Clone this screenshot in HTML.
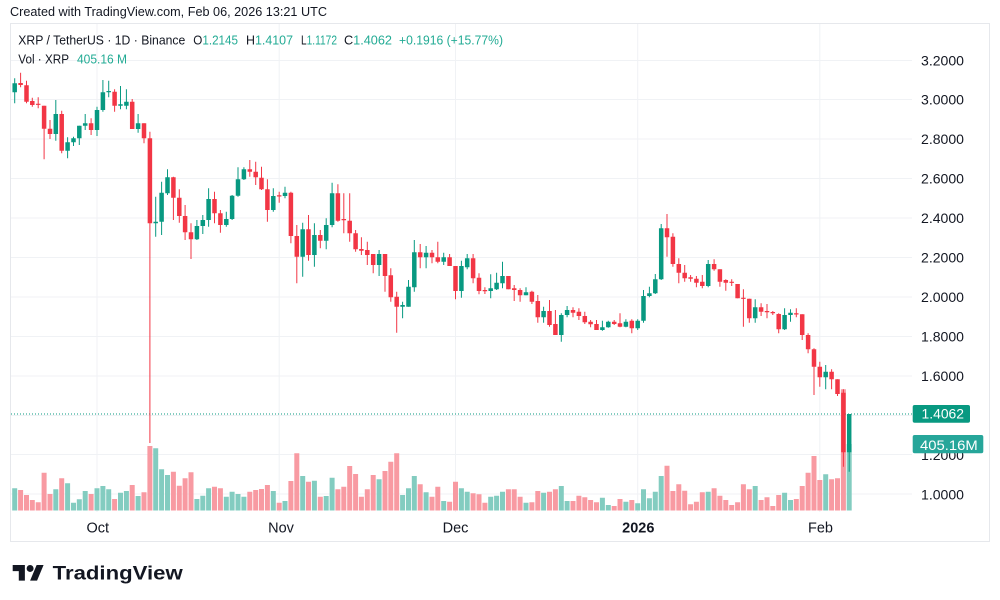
<!DOCTYPE html>
<html>
<head>
<meta charset="utf-8">
<style>
html,body{margin:0;padding:0;background:#fff;}
body{width:1000px;height:600px;overflow:hidden;}
svg{display:block;font-family:"Liberation Sans",Arial,sans-serif;}
</style>
</head>
<body>
<svg width="1000" height="600" viewBox="0 0 1000 600" xmlns="http://www.w3.org/2000/svg">
<rect width="1000" height="600" fill="#fff"/>
<!-- frame -->
<path d="M10.5 23.5H989.5V541.5H10.5Z" fill="none" stroke="#e6e8ec" stroke-width="1"/>
<!-- horizontal grid -->
<g stroke="#f0f2f5" stroke-width="1">
<path d="M11 60.5H912M11 99.5H912M11 139H912M11 178.5H912M11 218H912M11 257.5H912M11 297H912M11 336.5H912M11 376H912M11 415.5H912M11 454.5H912M11 494H912"/>
<path d="M97 24V512M279.2 24V512M455.5 24V512M637.7 24V512M819.8 24V512"/>
</g>
<!-- volume -->
<g fill="none" stroke-width="5">
<path stroke="#83ccc0" d="M14.7 510.5V488.3M55.8 510.5V489.3M67.6 510.5V483.3M73.5 510.5V502.7M79.3 510.5V499.3M85.2 510.5V491M97 510.5V488.3M102.9 510.5V486M108.7 510.5V489.3M120.5 510.5V492.7M126.4 510.5V491M138.1 510.5V496M155.7 510.5V448.3M161.6 510.5V469.3M167.5 510.5V475M196.9 510.5V499M202.8 510.5V495.7M208.6 510.5V488.3M226.3 510.5V496.7M232.1 510.5V491.7M238 510.5V494M243.9 510.5V496.7M273.3 510.5V491M285 510.5V501M302.7 510.5V476M314.4 510.5V480.7M326.2 510.5V496M332.1 510.5V477.7M379.1 510.5V479.3M402.6 510.5V495M408.5 510.5V488.3M414.3 510.5V476M426.1 510.5V492.3M443.7 510.5V501M461.4 510.5V488.3M467.2 510.5V491.7M490.7 510.5V496.7M496.6 510.5V495.7M502.5 510.5V491.7M526 510.5V502.7M543.6 510.5V492.7M561.3 510.5V486M567.1 510.5V501M602.4 510.5V497.7M608.3 510.5V505M625.9 510.5V501.7M637.7 510.5V503.3M643.5 510.5V489.3M649.4 510.5V498.3M655.3 510.5V491.7M661.2 510.5V476M708.2 510.5V491.7M755.2 510.5V486M784.6 510.5V492.7M790.5 510.5V500M825.7 510.5V474.3M849.2 510.5V444"/>
<path stroke="#f89aa2" d="M20.6 510.5V490M26.5 510.5V495M32.3 510.5V500M38.2 510.5V502.3M44.1 510.5V472.7M50 510.5V494M61.7 510.5V478.3M91.1 510.5V494M114.6 510.5V499M132.2 510.5V485M144 510.5V492.3M149.9 510.5V446M173.4 510.5V471.7M179.3 510.5V485.7M185.1 510.5V478.3M191 510.5V472.3M214.5 510.5V486.7M220.4 510.5V488.3M249.8 510.5V491.7M255.7 510.5V490M261.5 510.5V489M267.4 510.5V485M279.2 510.5V502.7M290.9 510.5V481M296.8 510.5V453.3M308.5 510.5V481.7M320.3 510.5V496.7M337.9 510.5V489.3M343.8 510.5V486.7M349.7 510.5V466M355.6 510.5V474M361.4 510.5V496.7M367.3 510.5V489.3M373.2 510.5V475M385 510.5V471M390.8 510.5V461.7M396.7 510.5V453.3M420.2 510.5V484.3M432 510.5V496.7M437.8 510.5V486.7M449.6 510.5V501.7M455.5 510.5V481.7M473.1 510.5V493.3M479 510.5V494.3M484.9 510.5V502.7M508.4 510.5V489.3M514.2 510.5V489.3M520.1 510.5V496.7M531.9 510.5V502.3M537.8 510.5V491M549.5 510.5V491.7M555.4 510.5V489.3M573 510.5V501M578.9 510.5V495.7M584.8 510.5V497.3M590.6 510.5V500M596.5 510.5V502.3M614.2 510.5V506M620 510.5V499M631.8 510.5V500M667 510.5V465.7M672.9 510.5V491M678.8 510.5V484.3M684.7 510.5V490.7M690.6 510.5V504.3M696.4 510.5V501.7M702.3 510.5V492.3M714.1 510.5V488.3M719.9 510.5V495.7M725.8 510.5V500M731.7 510.5V505M737.6 510.5V502.3M743.4 510.5V484.3M749.3 510.5V489.3M761.1 510.5V500M767 510.5V497.3M772.8 510.5V506M778.7 510.5V495M796.3 510.5V499M802.2 510.5V486M808.1 510.5V472.7M814 510.5V456M819.8 510.5V480M831.6 510.5V479.3M837.5 510.5V478.3M843.4 510.5V389.3"/>
</g>
<!-- last price dotted line -->
<path d="M11 414H912" stroke="#089981" stroke-width="1" stroke-dasharray="1 2"/>
<!-- candles -->
<g fill="none" stroke="#089981">
<path stroke-width="1" d="M14.7 78.3V103.3M55.8 100V140.7M67.6 137.3V158.3M73.5 136.7V146M79.3 125.7V145M85.2 114V130M97 106.7V136M102.9 80V111.7M108.7 80.7V97.3M120.5 86V109.3M126.4 89.3V109.3M138.1 114V132.7M155.7 196.7V236.7M161.6 181.7V235M167.5 169.3V195M196.9 220V240M202.8 215V234M208.6 188.3V226.7M226.3 211.7V226.7M232.1 195V220M238 167.3V196.7M243.9 167.3V180M273.3 188.3V211.7M285 186.7V198.3M302.7 222.7V276.7M314.4 223.3V266.7M326.2 218.3V249.3M332.1 182.7V227.3M379.1 250V276M402.6 301.7V318.3M408.5 280V306.7M414.3 240V291.7M426.1 246V268.3M443.7 252.7V265M461.4 260.7V297.7M467.2 254V269.3M490.7 274.3V298.3M496.6 272.7V290M502.5 261.7V288.3M526 287.3V295.3M543.6 306.7V322.7M561.3 313.3V341.7M567.1 306V317.3M602.4 320.7V330.7M608.3 320.7V327.7M625.9 319.3V327.3M637.7 319.3V330M643.5 290V322.7M649.4 286.7V297.3M655.3 274V294M661.2 224V280M708.2 260V287.3M755.2 299.3V322.7M784.6 308.3V330M790.5 309.3V321.7M825.7 365V389.3M849.2 414V471.7"/>
<path stroke-width="4.5" d="M14.7 83.3V92.3M55.8 114V134M67.6 142.3V150.7M73.5 138.3V142.3M79.3 125.7V138.3M85.2 123.3V125.7M97 110V130M102.9 92.3V110M108.7 91V92.3M120.5 104.3V105.7M126.4 101.7V105.7M138.1 123.3V129M155.7 221.7V223.3M161.6 192.7V221.7M167.5 177.3V193.3M196.9 226V239.3M202.8 220V226M208.6 199V220M226.3 219V225M232.1 195.7V219M238 179.3V195.7M243.9 169.3V179.3M273.3 196V210M285 192.7V196M302.7 229.3V256.7M314.4 235V255M326.2 225V240.7M332.1 193.3V225M379.1 254V265M402.6 305V306.7M408.5 286.7V306.7M414.3 252.3V287.3M426.1 252.7V257.3M443.7 257.3V261.7M461.4 266V291M467.2 258.3V267.3M490.7 288.3V291M496.6 282.7V289.3M502.5 276V283.3M526 292.3V295.3M543.6 311V317.3M561.3 315V335M567.1 310V315M602.4 327.3V330M608.3 321.7V327.3M625.9 321.7V326.7M637.7 320.7V328.3M643.5 296V320.7M649.4 293.3V296M655.3 279.3V293.3M661.2 228.3V279.3M708.2 264V286M755.2 307.3V318.3M784.6 315V329.3M790.5 312.7V315M825.7 371.7V377.3M849.2 414V452.3"/>
</g>
<g fill="none" stroke="#f23645">
<path stroke-width="1" d="M20.6 72.7V87.3M26.5 80.7V103.3M32.3 97.7V106.7M38.2 97.3V108.3M44.1 105.7V159.3M50 120V139M61.7 110.7V153.3M91.1 118.3V135M114.6 89.3V111.7M132.2 99V129M144 123.3V143.3M149.9 131.7V443M173.4 176.7V220M179.3 189.3V222.7M185.1 205V240M191 223.3V259M214.5 191.7V223.3M220.4 210V232.7M249.8 160V176.7M255.7 161.7V185M261.5 166.7V190M267.4 179.3V221.7M279.2 191.7V202.7M290.9 191.7V243.3M296.8 225V283.3M308.5 215V260.7M320.3 230V248.3M337.9 184.3V221.7M343.8 193.3V233.3M349.7 193.3V241.7M355.6 230V251.7M361.4 237.3V255M367.3 241.7V265M373.2 254V273.3M385 254V291.7M390.8 268.3V301.7M396.7 291.7V332.7M420.2 244V268.3M432 250V263.3M437.8 241.7V263.3M449.6 254V266M455.5 266V299.3M473.1 254V283.3M479 273.3V294.3M484.9 287.3V294M508.4 276V289.3M514.2 285V301M520.1 288.3V301.7M531.9 290.7V304M537.8 295V322.7M549.5 300V326.7M555.4 310V335M573 307.3V317.3M578.9 308.3V320M584.8 311.7V324M590.6 320V327.3M596.5 320V330M614.2 320V325M620 313.3V327.3M631.8 319.3V333.3M667 214V256.7M672.9 233.3V266.7M678.8 258.3V283.3M684.7 265V281.7M690.6 275V281.7M696.4 276V287.3M702.3 275V288.3M714.1 259.3V270.7M719.9 269.3V286.7M725.8 279.3V290.7M731.7 279.3V286M737.6 284V298.3M743.4 289.3V326.7M749.3 298.7V322.7M761.1 303.3V316M767 304V318.3M772.8 311V315M778.7 313.3V333.3M796.3 308.3V317.3M802.2 314.3V340M808.1 333.3V353.3M814 348.3V395M819.8 361.7V386.7M831.6 369.3V389.3M837.5 379.3V396M843.4 389.3V466.7"/>
<path stroke-width="4.5" d="M20.6 83V85M26.5 85.3V101.7M32.3 101V105M38.2 103.7V104.9M44.1 105.7V128.7M50 128.7V134M61.7 114V150.7M91.1 123.3V130M114.6 91.7V105.7M132.2 101.7V129M144 123.3V138.3M149.9 138.3V223.3M173.4 177.3V197.7M179.3 197.7V216M185.1 216V232.3M191 232.3V239.3M214.5 199V213.3M220.4 213.3V225M249.8 169.3V171.7M255.7 171.7V177.3M261.5 177.7V189.3M267.4 189.3V210M279.2 195.3V196.5M290.9 192.7V236M296.8 236V256.7M308.5 229.3V255M320.3 235V240.7M337.9 193.3V220.7M343.8 219V220.2M349.7 220.7V233.3M355.6 233.3V249.3M361.4 249V250.7M367.3 250V255M373.2 254V265M385 254V276M390.8 275.3V297.3M396.7 296.7V306.7M420.2 252.3V257.3M432 252.7V257.3M437.8 257.3V261.7M449.6 257.3V266M455.5 266V291M473.1 258.3V278.3M479 277.7V291M484.9 290V291.2M508.4 276V289.3M514.2 288.3V290M520.1 290V295.3M531.9 291.7V301.7M537.8 301V317.3M549.5 311V325M555.4 324V335M573 310V312.7M578.9 311.7V316M584.8 316V322.3M590.6 321.7V324.3M596.5 324V330M614.2 321.7V324M620 323.3V326.7M631.8 320.7V328.3M667 228.3V237.3M672.9 236.7V264M678.8 264V272.7M684.7 272.7V278.3M690.6 277.3V278.7M696.4 278.7V282.7M702.3 281.7V286M714.1 264V269.3M719.9 269.3V281.7M725.8 280V282.7M731.7 281.7V282.9M737.6 284V298.3M743.4 297.7V298.9M749.3 298.7V318.3M761.1 307.3V311.7M767 311V312.2M772.8 312V313.3M778.7 314V329.3M796.3 313.3V314.5M802.2 314.3V335M808.1 335V349.3M814 349.3V366.7M819.8 366.7V377.3M831.6 371.7V379.3M837.5 379.3V394M843.4 392.7V452.3"/>
</g>
<!-- header -->
<text x="10" y="16" font-size="13" fill="#131722" textLength="317" lengthAdjust="spacingAndGlyphs">Created with TradingView.com, Feb 06, 2026 13:21 UTC</text>
<g font-size="12.5" fill="#131722">
<text x="18.3" y="44.3" textLength="167" lengthAdjust="spacingAndGlyphs">XRP / TetherUS · 1D · Binance</text>
<text x="193.3" y="44.3" textLength="44.7" lengthAdjust="spacingAndGlyphs">O<tspan fill="#22ab94">1.2145</tspan></text>
<text x="246" y="44.3" textLength="47" lengthAdjust="spacingAndGlyphs">H<tspan fill="#22ab94">1.4107</tspan></text>
<text x="301" y="44.3" textLength="36" lengthAdjust="spacingAndGlyphs">L<tspan fill="#22ab94">1.1172</tspan></text>
<text x="344" y="44.3" textLength="48" lengthAdjust="spacingAndGlyphs">C<tspan fill="#22ab94">1.4062</tspan></text>
<text x="399" y="44.3" fill="#22ab94" textLength="104" lengthAdjust="spacingAndGlyphs">+0.1916 (+15.77%)</text>
<text x="18.3" y="63.3" textLength="50.7" lengthAdjust="spacingAndGlyphs">Vol · XRP</text>
<text x="77" y="63.3" fill="#22ab94" textLength="50" lengthAdjust="spacingAndGlyphs">405.16 M</text>
</g>
<!-- price axis -->
<g font-size="14" fill="#131722">
<text x="921" y="65.3" textLength="43" lengthAdjust="spacingAndGlyphs">3.2000</text>
<text x="921" y="104.7" textLength="43" lengthAdjust="spacingAndGlyphs">3.0000</text>
<text x="921" y="144.2" textLength="43" lengthAdjust="spacingAndGlyphs">2.8000</text>
<text x="921" y="183.6" textLength="43" lengthAdjust="spacingAndGlyphs">2.6000</text>
<text x="921" y="223.1" textLength="43" lengthAdjust="spacingAndGlyphs">2.4000</text>
<text x="921" y="262.5" textLength="43" lengthAdjust="spacingAndGlyphs">2.2000</text>
<text x="921" y="302" textLength="43" lengthAdjust="spacingAndGlyphs">2.0000</text>
<text x="921" y="341.4" textLength="43" lengthAdjust="spacingAndGlyphs">1.8000</text>
<text x="921" y="380.9" textLength="43" lengthAdjust="spacingAndGlyphs">1.6000</text>
<text x="921" y="459.8" textLength="43" lengthAdjust="spacingAndGlyphs">1.2000</text>
<text x="921" y="499.3" textLength="43" lengthAdjust="spacingAndGlyphs">1.0000</text>
</g>
<rect x="912.7" y="405" width="57.3" height="17.7" rx="2" fill="#089981"/>
<text x="921.5" y="418.6" font-size="14" fill="#fff" textLength="42.5" lengthAdjust="spacingAndGlyphs">1.4062</text>
<rect x="912.7" y="435" width="70.6" height="18.3" rx="2" fill="#26a69a"/>
<text x="920" y="449.8" font-size="14" fill="#fff" textLength="57.7" lengthAdjust="spacingAndGlyphs">405.16M</text>
<!-- time axis -->
<g font-size="14.5" fill="#131722" text-anchor="middle">
<text x="97.8" y="532.3">Oct</text>
<text x="281" y="532.3">Nov</text>
<text x="455.5" y="532.3">Dec</text>
<text x="638.3" y="532.3" font-weight="bold">2026</text>
<text x="820.5" y="532.3">Feb</text>
</g>
<!-- logo -->
<g transform="translate(12.7 561.5) scale(0.87)" fill="#131722">
<path d="M14 22H7V11H0V4h14v18zM28 22h-8l7.5-18h8L28 22z"/>
<circle cx="20" cy="8" r="4"/>
</g>
<text x="52.7" y="579.3" font-size="19" font-weight="bold" fill="#131722" textLength="130" lengthAdjust="spacingAndGlyphs">TradingView</text>
</svg>
</body>
</html>
